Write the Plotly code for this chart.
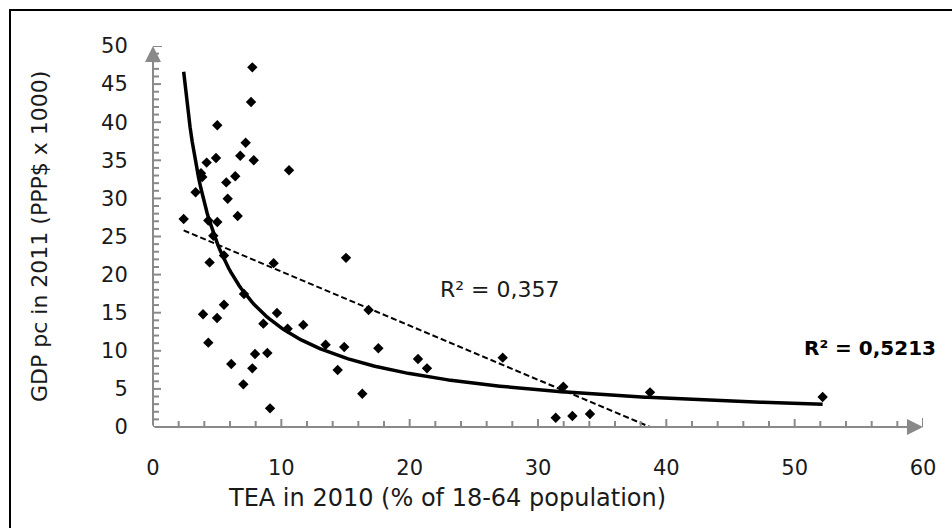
import numpy as np
import plotly.graph_objects as go

# ---- data ----
tea = [7.74, 7.64, 5.01, 7.22, 6.8, 4.91, 7.85, 4.18, 10.6, 3.74, 3.84, 6.41, 5.71, 3.32,
       5.82, 6.6, 2.39, 4.31, 5.01, 4.7, 5.53, 4.41, 9.4, 7.09, 5.53, 3.9, 4.99, 9.66,
       8.6, 10.49, 11.71, 4.31, 13.45, 14.39, 7.95, 8.91, 6.1, 7.74, 7.04, 9.12, 15.04,
       16.8, 14.9, 17.56, 16.31, 20.65, 21.35, 27.25, 31.97, 31.38, 32.68, 34.05, 38.73, 52.18]
gdp = [47.2, 42.65, 39.6, 37.3, 35.6, 35.3, 35.0, 34.7, 33.7, 33.3, 32.8, 32.9, 32.1, 30.8,
       29.96, 27.7, 27.3, 27.1, 26.9, 25.1, 22.5, 21.6, 21.5, 17.45, 16.05, 14.8, 14.3, 14.96,
       13.56, 12.9, 13.4, 11.07, 10.8, 7.48, 9.58, 9.71, 8.27, 7.7, 5.6, 2.45, 22.2,
       15.35, 10.5, 10.33, 4.37, 8.92, 7.7, 9.1, 5.29, 1.22, 1.44, 1.71, 4.55, 3.94]

# trend lines (coefficients)
lin_slope, lin_intercept = -0.71, 27.5          # linear trend, R² = 0,357
pow_a, pow_b = 101.4, -0.892                     # power trend, R² = 0,5213
r2_linear_label = "R² = 0,357"
r2_power_label = "<b>R² = 0,5213</b>"

x_ticks = [0, 10, 20, 30, 40, 50, 60]
y_ticks = [0, 5, 10, 15, 20, 25, 30, 35, 40, 45, 50]
x_title = "TEA in 2010 (% of 18-64 population)"
y_title = "GDP pc in 2011 (PPP$ x 1000)"

FONT = "DejaVu Sans"
AX = "#898989"
TXT = "#1a1a1a"

xmin = min(tea); xmax = max(tea)
x_lin = np.array([xmin, -lin_intercept / lin_slope])
y_lin = lin_intercept + lin_slope * x_lin
x_pow = np.linspace(xmin, xmax, 300)
y_pow = pow_a * x_pow ** pow_b

fig = go.Figure()
fig.add_trace(go.Scatter(x=tea, y=gdp, mode="markers",
                         marker=dict(symbol="diamond", size=8, color="black"),
                         showlegend=False, cliponaxis=False))
fig.add_trace(go.Scatter(x=x_lin, y=y_lin, mode="lines",
                         line=dict(color="black", width=2, dash="6px,3px"), showlegend=False))
fig.add_trace(go.Scatter(x=x_pow, y=y_pow, mode="lines",
                         line=dict(color="black", width=3.5), showlegend=False))

L, R, T, B = 153, 29, 46, 101
PW, PH = 952 - L - R, 528 - T - B


def px(xp):
    return (xp - L) / PW


def py(yp):
    return (528 - B - yp) / PH


shapes = []
# outer frame (top and left visible)
shapes.append(dict(type="rect", xref="paper", yref="paper", x0=px(10), x1=px(980),
                   y0=py(560), y1=py(10), line=dict(color="black", width=2)))
# ticks crossing the axes
for v in range(0, 61, 2):
    h = 8 if v % 10 == 0 else 6
    shapes.append(dict(type="line", xref="x", yref="y", ysizemode="pixel", yanchor=0,
                       x0=v, x1=v, y0=-h, y1=h, line=dict(color=AX, width=2)))
for v in range(0, 51, 1):
    h = 8 if v % 5 == 0 else 6
    shapes.append(dict(type="line", xref="x", yref="y", xsizemode="pixel", xanchor=0,
                       y0=v, y1=v, x0=-h, x1=h, line=dict(color=AX, width=2)))
# end caps
shapes.append(dict(type="line", xref="x", yref="y", ysizemode="pixel", yanchor=0,
                   x0=60, x1=60, y0=-9, y1=9, line=dict(color=AX, width=2)))
shapes.append(dict(type="line", xref="x", yref="y", xsizemode="pixel", xanchor=0,
                   y0=50, y1=50, x0=-9, x1=9, line=dict(color=AX, width=2)))

annotations = [
    dict(x=60, y=0, ax=0, ay=0, xref="x", yref="y", axref="x", ayref="y", text="",
         showarrow=True, arrowhead=2, arrowsize=1.6, arrowwidth=2, arrowcolor=AX, standoff=0),
    dict(x=0, y=50, ax=0, ay=0, xref="x", yref="y", axref="x", ayref="y", text="",
         showarrow=True, arrowhead=2, arrowsize=1.6, arrowwidth=2, arrowcolor=AX, standoff=0),
    dict(x=px(438), y=py(289), xref="paper", yref="paper", text=r2_linear_label, showarrow=False,
         xanchor="left", yanchor="middle", font=dict(family=FONT, size=22, color=TXT)),
    dict(x=px(938), y=py(348), xref="paper", yref="paper", text=r2_power_label, showarrow=False,
         xanchor="right", yanchor="middle", font=dict(family=FONT, size=20, color="black")),
    dict(x=px(447), y=py(498), xref="paper", yref="paper", text=x_title,
         showarrow=False, xanchor="center", yanchor="middle",
         font=dict(family=FONT, size=24, color=TXT)),
    dict(x=px(40), y=py(237), xref="paper", yref="paper", text=y_title, textangle=-90,
         showarrow=False, xanchor="center", yanchor="middle",
         font=dict(family=FONT, size=22, color=TXT)),
]

fig.update_layout(
    width=952, height=528, margin=dict(l=L, r=R, t=T, b=B),
    paper_bgcolor="white", plot_bgcolor="white",
    shapes=shapes, annotations=annotations,
    xaxis=dict(range=[0, 60], tickvals=x_ticks, showgrid=False, zeroline=False, showline=False,
               ticks="outside", ticklen=22, tickcolor="rgba(0,0,0,0)",
               tickfont=dict(family=FONT, size=21, color=TXT)),
    yaxis=dict(range=[0, 50], tickvals=y_ticks, showgrid=False, zeroline=False, showline=False,
               ticks="outside", ticklen=20, tickcolor="rgba(0,0,0,0)",
               tickfont=dict(family=FONT, size=21, color=TXT)),
)
fig.write_html("out.html")
